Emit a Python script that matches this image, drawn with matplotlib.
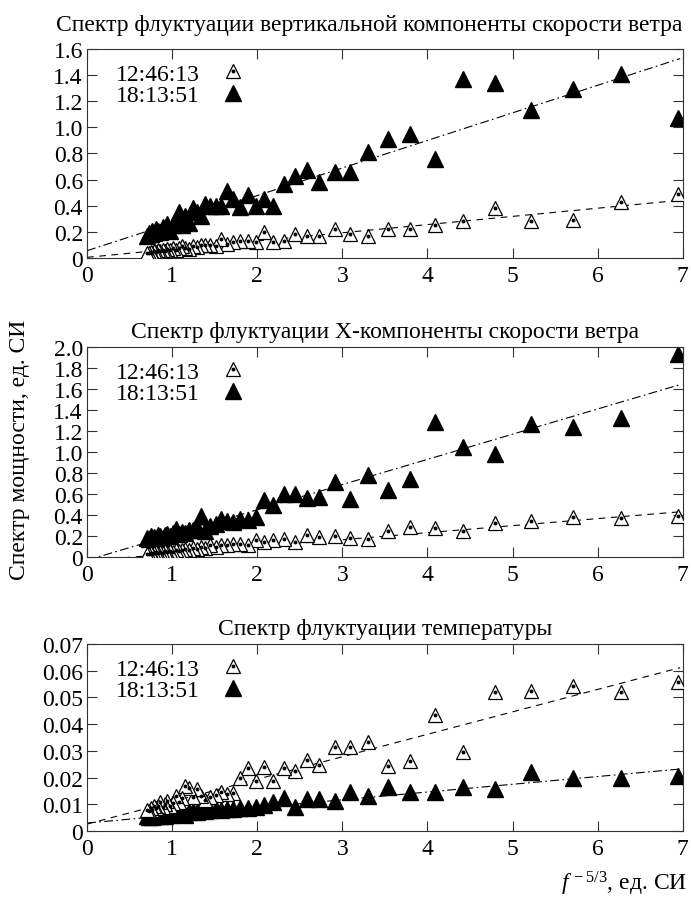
import numpy as np
import matplotlib.pyplot as plt

plt.rcParams['font.family'] = ['Liberation Serif', 'DejaVu Serif']
plt.rcParams['mathtext.fontset'] = 'custom'
plt.rcParams['mathtext.rm'] = 'Liberation Serif'
plt.rcParams['mathtext.it'] = 'Liberation Serif:italic'

# f^(-5/3) values, same for every series
x = [6.95, 6.28, 5.71, 5.22, 4.79, 4.42, 4.09, 3.80, 3.54, 3.30,
     3.09, 2.91, 2.73, 2.58, 2.44, 2.31, 2.19, 2.08, 1.98, 1.89,
     1.80, 1.72, 1.64, 1.57, 1.51, 1.45, 1.39, 1.34, 1.29, 1.24,
     1.195, 1.153, 1.113, 1.076, 1.040, 1.007, 0.975, 0.944, 0.915, 0.888,
     0.861, 0.836, 0.812, 0.790, 0.768, 0.747, 0.727, 0.708]

# vertical wind component
w_1246 = [0.49, 0.43, 0.29, 0.28, 0.38, 0.285, 0.25, 0.22, 0.22, 0.17,
          0.18, 0.22, 0.17, 0.17, 0.18, 0.13, 0.12, 0.20, 0.12, 0.13,
          0.13, 0.12, 0.11, 0.145, 0.095, 0.10, 0.10, 0.10, 0.085, 0.09,
          0.07, 0.08, 0.09, 0.075, 0.065, 0.08, 0.06, 0.07, 0.055, 0.065,
          0.05, 0.06, 0.045, 0.05, 0.04, 0.045, 0.035, 0.04]
w_1813 = [1.07, 1.41, 1.29, 1.13, 1.34, 1.37, 0.76, 0.95, 0.91, 0.81,
          0.66, 0.66, 0.58, 0.67, 0.63, 0.57, 0.40, 0.45, 0.40, 0.48,
          0.39, 0.45, 0.51, 0.40, 0.40, 0.40, 0.41, 0.32, 0.35, 0.38,
          0.27, 0.32, 0.25, 0.35, 0.30, 0.25, 0.21, 0.26, 0.22, 0.24,
          0.20, 0.21, 0.22, 0.19, 0.21, 0.18, 0.19, 0.17]

# X wind component
u_1246 = [0.39, 0.37, 0.38, 0.34, 0.32, 0.25, 0.28, 0.29, 0.25, 0.17,
          0.18, 0.20, 0.19, 0.21, 0.14, 0.17, 0.16, 0.14, 0.16, 0.11,
          0.12, 0.12, 0.11, 0.11, 0.10, 0.11, 0.09, 0.10, 0.08, 0.09,
          0.07, 0.08, 0.07, 0.06, 0.07, 0.05, 0.06, 0.05, 0.06, 0.04,
          0.05, 0.04, 0.05, 0.04, 0.03, 0.04, 0.03, 0.03]
u_1813 = [1.93, 1.32, 1.235, 1.27, 0.98, 1.05, 1.29, 0.74, 0.64, 0.78,
          0.55, 0.71, 0.57, 0.56, 0.60, 0.60, 0.50, 0.54, 0.38, 0.35,
          0.36, 0.33, 0.34, 0.36, 0.31, 0.30, 0.25, 0.39, 0.29, 0.26,
          0.26, 0.23, 0.24, 0.22, 0.27, 0.23, 0.20, 0.22, 0.21, 0.18,
          0.20, 0.21, 0.17, 0.19, 0.18, 0.20, 0.17, 0.18]

# temperature
t_1246 = [0.0559, 0.0519, 0.0542, 0.0525, 0.0522, 0.0295, 0.0435, 0.0263, 0.0245, 0.0333,
          0.0315, 0.0315, 0.0246, 0.0267, 0.0226, 0.0235, 0.0187, 0.0238, 0.0188, 0.0235,
          0.0200, 0.0144, 0.0140, 0.0145, 0.0135, 0.0128, 0.0118, 0.0130, 0.0157, 0.0128,
          0.0160, 0.0167, 0.0125, 0.0108, 0.0130, 0.0105, 0.0095, 0.0112, 0.0100, 0.0090,
          0.0110, 0.0095, 0.0085, 0.0095, 0.0080, 0.0085, 0.0075, 0.0080]
t_1813 = [0.0207, 0.0197, 0.0197, 0.0222, 0.0157, 0.0166, 0.0147, 0.0147, 0.0164, 0.0132,
          0.0145, 0.0114, 0.0120, 0.0121, 0.0089, 0.0122, 0.0107, 0.0097, 0.0089, 0.0088,
          0.0087, 0.0084, 0.0083, 0.0080, 0.0081, 0.0078, 0.0076, 0.0077, 0.0072, 0.0074,
          0.0070, 0.0060, 0.0068, 0.0065, 0.0062, 0.0066, 0.0060, 0.0063, 0.0058, 0.0061,
          0.0056, 0.0059, 0.0055, 0.0057, 0.0054, 0.0056, 0.0053, 0.0055]

# fitted lines (intercept, slope)
fit_1246 = [(0.005, 0.0627), (-0.036, 0.067), (0.0026, 0.0084)]
fit_1813 = [(0.056, 0.211), (-0.03, 0.24), (0.003, 0.0029)]

titles = ['Спектр флуктуации вертикальной компоненты скорости ветра',
          'Спектр флуктуации X-компоненты скорости ветра',
          'Спектр флуктуации температуры']
ymax = [1.6, 2.0, 0.07]
ystep = [0.2, 0.2, 0.01]
labels = ['12:46:13', '18:13:51']
data = [(w_1246, w_1813), (u_1246, u_1813), (t_1246, t_1813)]

fig = plt.figure(figsize=(6.91, 9.04), dpi=100)
boxes = [[0.126, 0.7135, 0.862, 0.2312],
         [0.126, 0.3827, 0.862, 0.2323],
         [0.126, 0.0796, 0.862, 0.2069]]
title_pad = [14, 7, 7]
title_loc = ['right', 'center', 'center']

FS = 17
xs = np.array(x)
xf = np.linspace(0, 6.97, 50)

for i in range(3):
    ax = fig.add_axes(boxes[i])
    ya, yb = data[i]
    a0, a1 = fit_1246[i]
    b0, b1 = fit_1813[i]
    ax.plot(xf, a0 + a1 * xf, color='k', lw=0.8, dashes=(6, 5), zorder=1)
    ax.plot(xf, b0 + b1 * xf, color='k', lw=0.8, dashes=(8, 3, 1.5, 3), zorder=1)
    h1, = ax.plot(xs, ya, ls='none', marker='^', ms=10, mfc='white', mec='k', mew=0.9, zorder=3)
    h1d, = ax.plot(xs, ya, ls='none', marker='o', ms=1.8, color='k', zorder=4)
    h2, = ax.plot(xs, yb, ls='none', marker='^', ms=11.5, color='k', zorder=2)

    ax.set_xlim(0, 7)
    ax.set_ylim(0, ymax[i])
    ax.set_xticks(range(8))
    yt = np.arange(0, ymax[i] + ystep[i] / 2, ystep[i])
    ax.set_yticks(yt)
    if i < 2:
        ax.set_yticklabels(['0'] + ['%.1f' % v for v in yt[1:]])
    else:
        ax.set_yticklabels(['0'] + ['%.2f' % v for v in yt[1:]])
    ax.tick_params(direction='in', top=True, right=True, length=7, width=0.8,
                   labelsize=FS, colors='#333333', labelcolor='black')
    ax.tick_params(axis='x', pad=5)
    ax.tick_params(axis='y', pad=3)
    for s in ax.spines.values():
        s.set_linewidth(0.8)
        s.set_color('#333333')
    ax.set_title(titles[i], fontsize=FS, pad=title_pad[i], loc=title_loc[i])
    ax.legend([(h1, h1d), h2], labels, loc='upper left', bbox_to_anchor=(0.025, 1.0),
              frameon=False, markerfirst=False, fontsize=FS, handlelength=1.0,
              handletextpad=0.9, labelspacing=0.0, borderaxespad=0.2)

fig.text(0.028, 0.502, 'Спектр мощности, ед. СИ', rotation=90, fontsize=FS,
         ha='center', va='center')
fig.text(0.995, 0.022, r'$f^{\,-5/3}$, ед. СИ', fontsize=FS, ha='right', va='center')

fig.savefig('out.png', dpi=100)
